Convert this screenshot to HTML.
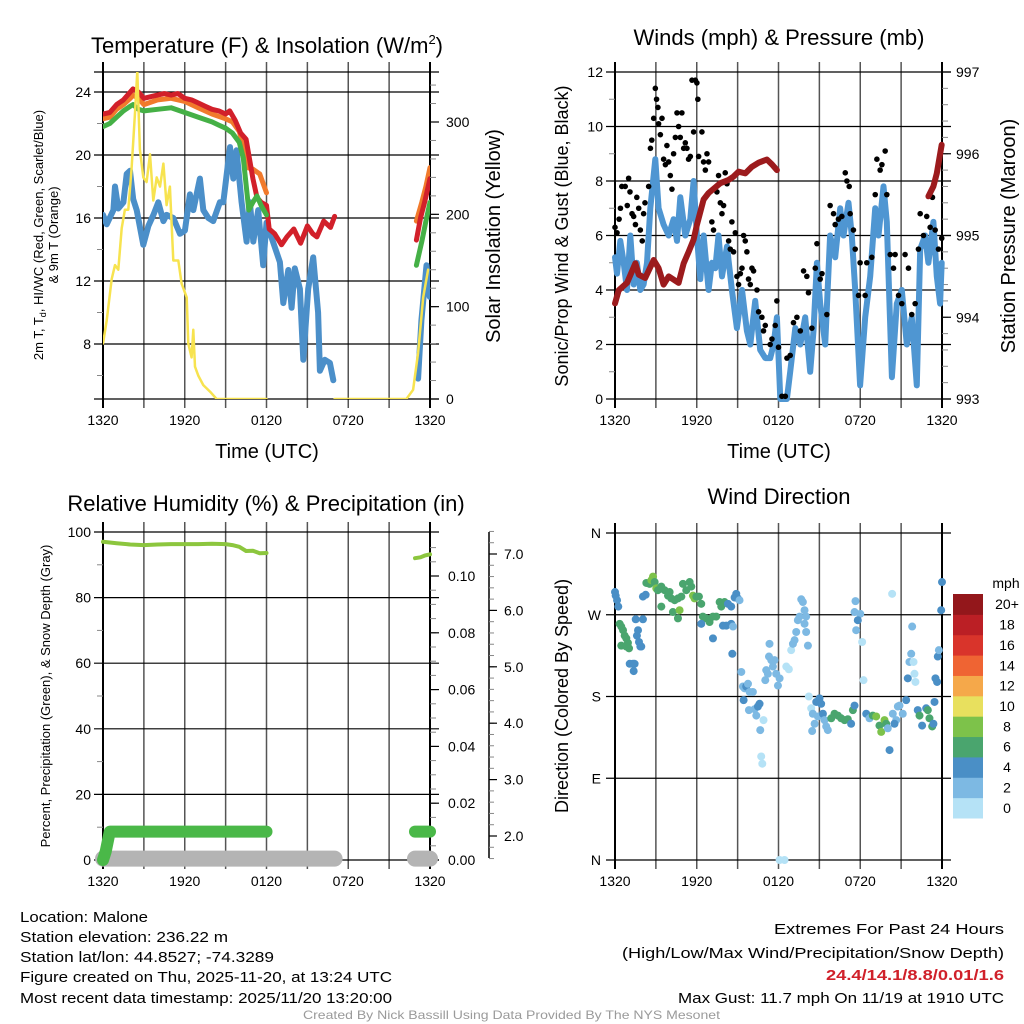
<!DOCTYPE html>
<html><head><meta charset="utf-8"><style>
html,body{margin:0;padding:0;background:#fff}
svg{display:block;font-family:"Liberation Sans",Arial,sans-serif}
</style></head><body>
<svg id="fig" width="1024" height="1024" viewBox="0 0 1024 1024" xmlns="http://www.w3.org/2000/svg">
<rect width="1024" height="1024" fill="#fff"/>
<g id="g-tl"></g>
<g id="g-tr"></g>
<g id="g-bl"></g>
<g id="g-br"></g>
<g fill="#000">
<text x="267" y="53" font-size="22" text-anchor="middle">Temperature (F) &amp; Insolation (W/m<tspan font-size="13" dy="-9">2</tspan><tspan dy="9">)</tspan></text>
<text x="779" y="45" font-size="22" text-anchor="middle">Winds (mph) &amp; Pressure (mb)</text>
<text x="266" y="511" font-size="22" text-anchor="middle">Relative Humidity (%) &amp; Precipitation (in)</text>
<text x="779" y="504" font-size="22" text-anchor="middle">Wind Direction</text>
<text x="267" y="458" font-size="20" text-anchor="middle">Time (UTC)</text>
<text x="779" y="458" font-size="20" text-anchor="middle">Time (UTC)</text>
<text transform="translate(43,235) rotate(-90)" font-size="13" text-anchor="middle">2m T, T<tspan font-size="9" dy="3">d</tspan><tspan dy="-3">, HI/WC (Red, Green, Scarlet/Blue)</tspan></text>
<text transform="translate(58,235) rotate(-90)" font-size="13" text-anchor="middle">&amp; 9m T (Orange)</text>
<text transform="translate(500,236) rotate(-90)" font-size="20" text-anchor="middle">Solar Insolation (Yellow)</text>
<text transform="translate(568,236) rotate(-90)" font-size="18" text-anchor="middle">Sonic/Prop Wind &amp; Gust (Blue, Black)</text>
<text transform="translate(1015,236) rotate(-90)" font-size="20" text-anchor="middle">Station Pressure (Maroon)</text>
<text transform="translate(50,696) rotate(-90)" font-size="13" text-anchor="middle">Percent, Precipitation (Green), &amp; Snow Depth (Gray)</text>
<text transform="translate(568,696) rotate(-90)" font-size="18" text-anchor="middle">Direction (Colored By Speed)</text>
</g>
<g font-size="15" fill="#000">
<text x="20" y="922" textLength="128" lengthAdjust="spacingAndGlyphs">Location: Malone</text>
<text x="20" y="942" textLength="208" lengthAdjust="spacingAndGlyphs">Station elevation: 236.22 m</text>
<text x="20" y="962" textLength="254" lengthAdjust="spacingAndGlyphs">Station lat/lon: 44.8527; -74.3289</text>
<text x="20" y="982" textLength="372" lengthAdjust="spacingAndGlyphs">Figure created on Thu, 2025-11-20, at 13:24 UTC</text>
<text x="20" y="1003" textLength="372" lengthAdjust="spacingAndGlyphs">Most recent data timestamp: 2025/11/20 13:20:00</text>
<text x="774" y="934" textLength="230" lengthAdjust="spacingAndGlyphs">Extremes For Past 24 Hours</text>
<text x="622" y="958" textLength="382" lengthAdjust="spacingAndGlyphs">(High/Low/Max Wind/Precipitation/Snow Depth)</text>
<text x="826" y="980" fill="#d0202a" font-weight="bold" textLength="178" lengthAdjust="spacingAndGlyphs">24.4/14.1/8.8/0.01/1.6</text>
<text x="678" y="1003" textLength="326" lengthAdjust="spacingAndGlyphs">Max Gust: 11.7 mph On 11/19 at 1910 UTC</text>
<text x="303" y="1019" font-size="12" fill="#9a9a9a" textLength="417" lengthAdjust="spacingAndGlyphs">Created By Nick Bassill Using Data Provided By The NYS Mesonet</text>
</g>
</svg>
<script>
// ---------- DATA (hours since 1320 UTC) ----------
const xTickLabels = ["1320","1920","0120","0720","1320"];
const tempTicks = [8,12,16,20,24];
const insolTicks = [0,100,200,300];
const windTicks = [0,2,4,6,8,10,12];
const presTicks = [993,994,995,996,997];
const rhTicks = [0,20,40,60,80,100];
const precipTicks = ["0.00","0.02","0.04","0.06","0.08","0.10"];
const snowTicks = ["2.0","3.0","4.0","5.0","6.0","7.0"];
const dirTicks = ["N","E","S","W","N"];
const speedBinLabels = ["0","2","4","6","8","10","12","14","16","18","20+"];
const speedBinColors = ["#b5e2f6","#7db9e3","#4a8fc6","#4aa56e","#7dc24a","#e8e05e","#f5a84a","#ef6433","#d9342b","#bb1f25","#93171b"];

const redT_t = [0,0.5,1,1.5,2,2.2,2.6,3,3.5,4,4.5,5,5.5,6,6.5,7,7.5,8,8.5,9,9.3,9.7,10.1,10.5,11,11.3,11.6,12,12.2,12.6,13.1,13.5,14,14.5,15,15.4,15.7,16.2,16.7,17];
const redT_v = [22.6,22.7,23.2,23.5,24.0,24.2,24.0,23.6,23.7,23.8,23.9,23.8,23.9,23.6,23.5,23.3,23.1,22.9,22.8,22.6,22.8,22.2,21.4,21.0,18.5,17.3,17.0,16.8,15.3,15.0,14.3,14.8,15.3,14.4,15.5,15.0,14.8,15.8,15.4,16.1];
const redT2_t = [23,23.3,23.6,24];
const redT2_v = [14.6,16.0,17.0,18.5];
const orgT_t = [0,0.5,1,1.5,2,2.2,2.6,3,4,5,6,7,8,9,9.5,10,10.3,10.6,11,11.5,12];
const orgT_v = [22.3,22.4,22.9,23.2,23.6,23.8,23.6,23.2,23.5,23.6,23.4,23.0,22.6,22.3,22.1,21.5,20.5,19.2,19.1,18.8,17.6];
const orgT2_t = [23,23.4,23.7,24];
const orgT2_v = [15.8,17.0,18.0,19.2];
const grnT_t = [0,0.5,1,1.5,2,2.2,2.6,3,4,5,6,7,8,8.5,9,9.5,10,10.3,10.7,11,11.3,11.6,12];
const grnT_v = [21.8,22.0,22.4,22.8,23.1,23.2,22.9,22.8,22.9,23.0,22.7,22.4,22.1,21.9,21.7,21.4,20.8,19.8,16.5,17.0,17.4,16.8,16.2];
const grnT2_t = [23,23.4,23.7,24];
const grnT2_v = [13.0,14.5,15.8,17.0];
const blueT_t = [0,0.27,0.76,0.88,1.12,1.5,1.74,1.98,2.22,2.47,2.96,3.33,3.7,4.06,4.43,4.67,5.16,5.65,6.01,6.38,6.63,7.11,7.36,7.73,8.09,8.58,8.83,9.32,9.56,9.8,10.17,10.54,10.78,11.03,11.39,11.76,12.0,12.98,13.23,13.6,13.84,14.08,14.45,14.7,15.06,15.43,15.79,15.92,16.28,16.65,16.9];
const blueT_v = [16.2,15.6,16.5,18,16.6,17,18.8,19,17.2,16.5,14.3,15.5,16.2,17,15.8,16.2,16,15,15.2,17.5,16.5,18.5,16.5,16,15.8,17,17,20.5,18.5,20.3,17,14.5,17,14.5,16.5,13,15.7,13.2,10.6,12.7,10.3,12.8,11.5,7,11.5,13.5,10,6.3,7,6.8,5.7];
const blueT2_t = [23.13,23.37,23.74,23.98];
const blueT2_v = [5.8,9.5,13,11];
const insol_t = [0,0.27,0.64,0.88,1.12,1.37,1.61,1.86,2.1,2.35,2.52,2.71,2.96,3.2,3.45,3.69,3.94,4.18,4.43,4.67,4.91,5.16,5.53,5.77,6.14,6.26,6.5,6.63,6.75,7.0,7.36,7.85,8.34,12.0];
const insol_v = [60,85,130,145,140,185,205,205,250,310,355,270,240,235,265,215,240,230,255,210,230,150,150,125,110,60,45,75,35,25,15,8,0,0];
const insol2_t = [17.0,22.27,22.76,23.13,23.5,23.86];
const insol2_v = [0,0,10,50,110,140];

const pres_t = [0,0.27,0.88,1.5,1.74,2.22,2.84,3.2,3.57,3.94,4.67,5.04,5.4,5.77,6.01,6.5,6.87,7.73,8.34,8.7,9.07,9.56,10.05,10.54,11.15,11.52,11.88];
const pres_v = [994.17,994.33,994.42,994.66,994.52,994.48,994.7,994.6,994.4,994.5,994.42,994.66,994.8,994.95,995.13,995.44,995.52,995.64,995.68,995.72,995.78,995.76,995.84,995.89,995.93,995.87,995.8];
const pres2_t = [23.0,23.37,23.62,23.98];
const pres2_v = [995.48,995.6,995.76,996.11];
const wind_t = [0,0.15,0.39,0.64,0.88,1.12,1.37,1.61,1.86,2.1,2.35,2.59,2.96,3.2,3.57,3.94,4.3,4.55,4.79,5.16,5.53,5.77,6.01,6.26,6.5,6.87,7.11,7.36,7.6,7.85,8.22,8.58,8.95,9.32,9.68,9.93,10.29,10.66,11.03,11.39,11.64,11.88,12.13,12.62,12.86,13.23,13.6,13.96,14.33,14.57,14.82,15.06,15.43,15.79,16.16,16.53,16.77,17.14,17.38,17.63,17.99,18.36,18.73,19.1,19.34,19.71,19.95,20.32,20.68,21.05,21.42,21.78,22.15,22.4,22.76,23.0,23.37,23.62,23.86,23.98];
const wind_v = [5.2,4.6,5.8,5.0,4.0,6.0,4.2,5.0,4.0,4.2,5.0,7.0,8.8,7.0,6.4,6.0,6.6,5.8,7.4,6.0,6.6,8.0,6.0,4.4,6.0,4.0,5.0,4.8,6.0,4.5,5.6,4.0,2.6,4.0,2.5,2.0,3.6,1.8,1.5,1.5,2.0,3.0,0,0,1.0,2.6,2.0,3.0,1.0,2.5,5.0,3.5,2.0,6.0,5.2,7.0,6.0,7.2,6.0,4.0,0.5,3.0,4.5,7.0,6.0,7.8,6.5,0.8,3.5,4.0,2.0,3.0,0.5,5.5,6.0,5.0,6.5,4.5,3.5,5.0];
const gust_t = [0,0.15,0.3,0.4,0.5,0.75,0.9,1.0,1.1,1.25,1.37,1.5,1.6,1.74,1.86,2.0,2.1,2.2,2.47,2.6,2.7,2.84,2.96,3.05,3.15,3.2,3.33,3.45,3.57,3.7,3.81,3.94,4.06,4.18,4.3,4.43,4.55,4.67,4.79,4.91,5.04,5.16,5.28,5.4,5.53,5.65,5.77,5.9,6.01,6.08,6.14,6.38,6.5,6.63,6.75,6.87,7.11,7.23,7.48,7.6,7.73,7.85,7.97,8.09,8.22,8.34,8.46,8.58,8.7,8.83,8.95,9.07,9.2,9.32,9.44,9.56,9.68,9.8,9.93,10.05,10.17,10.42,10.54,10.78,10.9,11.03,11.39,11.52,11.76,11.88,12.0,12.25,12.5,12.62,12.86,13.1,13.35,13.6,13.84,14.08,14.2,14.45,14.7,14.82,15.06,15.19,15.55,15.79,16.04,16.16,16.4,16.65,16.9,17.02,17.19,17.26,17.5,17.63,17.87,17.99,18.36,18.48,18.85,19.1,19.22,19.46,19.59,19.83,19.95,20.2,20.44,20.56,20.81,21.05,21.29,21.54,21.78,22.03,22.27,22.4,22.64,22.88,23.13,23.3,23.5,23.74,23.98];
const gust_v = [6.3,6.1,6.6,7.0,7.8,7.8,7.1,8.1,7.6,6.8,6.7,6.4,7.4,7.0,6.2,5.8,6.8,7.2,7.8,9.2,9.5,10.3,11.4,11.0,10.7,10.1,9.7,10.3,8.8,8.6,9.3,8.7,8.2,7.7,9.0,9.6,10.5,10.0,9.6,10.5,9.2,9.4,9.2,8.8,8.9,11.7,9.8,11.7,11.6,11.0,8.9,9.8,8.7,8.4,9.0,8.7,6.5,6.2,7.6,8.2,7.2,6.8,7.1,8.3,7.9,5.8,5.5,6.5,5.4,6.1,4.5,4.2,4.6,4.8,6.0,5.8,5.4,4.4,4.2,4.8,4.7,4.0,3.2,3.0,2.5,2.7,2.0,2.2,2.7,3.6,1.9,0.1,0.1,1.5,1.6,2.8,3.0,2.5,4.7,4.5,3.9,2.6,4.8,5.7,4.4,4.6,3.1,7.1,6.8,6.4,6.6,6.7,8.3,8.0,7.8,6.8,6.2,5.5,3.8,5.0,3.8,5.0,5.2,7.5,8.8,8.4,8.6,9.1,7.5,5.3,4.8,5.3,3.8,3.5,5.3,4.8,3.1,3.5,5.5,6.8,6.0,6.7,6.3,7.4,6.2,5.5,5.9];

const rh_t = [0,1,2,3,4,5,6,7,8,9,9.5,10,10.5,11,11.5,12];
const rh_v = [97,96.6,96.2,96,96.2,96.3,96.3,96.3,96.4,96.3,96,95.5,94.2,94.3,93.5,93.6];
const rh2_t = [22.9,23.3,23.6,24];
const rh2_v = [92,92.3,92.8,93.2];
const precip_t = [0,0.2,0.5,1,4,8,12];
const precip_v = [0,0.003,0.01,0.01,0.01,0.01,0.01];
const precip2_t = [22.9,24];
const precip2_v = [0.01,0.01];
const snow_t = [0,17];
const snow_v = [1.6,1.6];
const snow2_t = [22.9,24];
const snow2_v = [1.6,1.6];

const dir_t = [
 0,0.05,0.15,0.24, 0.34,0.46,0.59,0.71,0.83,0.95,0.46,0.83,1.03, 1.08,1.32,1.44,1.37, 1.52,1.61,1.76,1.86,1.69,2.05,1.93, 2.05,2.25, 2.3,2.54,2.67,2.79,2.91,3.03,3.15,
 3.4,3.64,3.89,4.13,4.38,4.62,4.87,4.99,5.23,5.48,5.6,5.72,5.84,5.97,6.16,6.33,3.4,4.25,4.74,4.62,4.01,
 6.45,6.7,6.94,7.19,7.43,6.33,7.19,7.68,7.8,8.04,8.29,8.53,8.78,8.9,9.02,9.14,7.92,8.17,8.53,8.66,8.61,
 9.27,9.39,9.51,9.63,9.76,9.88,10.12,9.44,9.83,10.24,10.37,10.49,10.61,10.66,10.9,10.73,10.81,11.03,11.1,11.22,11.34,11.3,11.47,11.59,11.71,11.83,11.96,12.08,
 12.08,12.44,12.57,12.76,12.93,13.06,13.18,13.3,13.42,13.55,13.67,13.79,13.91,14.03,13.91,14.03,14.16,
 14.23,14.4,14.52,14.65,14.77,15.01,15.13,14.89,15.26,15.38,15.5,15.62,14.47,
 15.87,16.11,16.36,16.6,16.85,17.09,17.33,17.46,17.58,17.65,17.58,18.0,17.82,17.7,18.14,18.24,
 18.44,18.68,18.92,19.17,19.41,19.54,19.78,19.9,20.02,20.15,20.39,20.64,20.51,20.76,20.88,21.12,20.34,
 21.37,21.49,21.61,21.74,21.81,21.91,21.98,22.05,22.22,22.35,22.54,22.84,22.96,23.08,23.28,23.37,23.45,23.52,23.64,23.69,23.77,23.94,24.0];
const dir_v = [
 295,291,286,279, 260,257,253,247,244,239,236,235,233, 216,216,216,208, 265,247,240,235,253,265,235, 290,292, 305,304,308,312,306,299,297,
 301,297,291,288,286,288,290,304,297,306,301,291,288,290,290,282,279,273,275,266,295,
 268,266,262,268,268,260,244,284,279,284,282,279,289,293,288,286,258,258,260,257,227,
 207,191,189,191,194,185,185,176,165,166,159,169,172,143,154,114,106,198,209,205,238,224,220,213,220,205,192,200,
 0,0,213,210,231,238,242,251,264,268,287,284,275,268,260,251,236,
 180,167,161,150,174,178,172,158,161,154,147,143,142,
 156,161,159,156,154,155,150,165,170,285,273,271,264,253,240,198,
 161,156,159,158,148,141,154,150,145,121,161,154,150,169,170,161,293,
 176,200,218,227,257,218,205,196,165,159,148,167,165,156,147,150,174,200,196,224,231,275,306];
const dir_s = [
 5,5,5,5, 7,7,7,7,7,7,7,7,7, 5,5,5,5, 5,5,5,5,5,5,5, 5,5, 7,7,9,9,7,9,7,
 7,7,7,7,7,7,7,7,7,7,7,9,9,7,7,7,7,7,9,7,7,
 7,7,7,7,7,5,5,7,7,7,5,5,5,5,5,3,5,5,5,3,5,
 3,3,3,5,3,3,3,5,3,3,3,5,5,3,1,1,1,3,3,3,3,3,3,3,3,3,3,3,
 1,1,1,1,1,3,3,3,3,3,3,3,3,3,3,3,3,
 1,1,3,3,5,5,5,3,5,3,3,3,3,
 7,7,7,7,7,7,5,7,5,3,3,3,5,3,1,1,
 5,3,7,9,7,9,9,7,3,5,3,3,5,3,3,3,1,
 5,5,3,3,3,1,1,1,5,7,5,5,7,7,7,5,5,5,5,5,3,5,5];

// ---------- DRAWING ----------
const NS = "http://www.w3.org/2000/svg";
function mk(parent, tag, attrs, name) {
  const el = document.createElementNS(NS, tag);
  for (const k in attrs) el.setAttribute(k, attrs[k]);
  
  
  parent.appendChild(el);
  return el;
}
function txt(parent, x, y, s, size, anchor, name) {
  const t = mk(parent, 'text', {x: x, y: y, 'font-size': size, 'text-anchor': anchor, fill: '#000'}, name);
  t.textContent = s;
  return t;
}
function lin(a0, a1, p0, p1) { return v => p0 + (v - a0) / (a1 - a0) * (p1 - p0); }
function pathOf(ts, vs, sx, sy) {
  let d = "";
  const n = Math.min(ts.length, vs.length);
  for (let i = 0; i < n; i++) d += (i ? "L" : "M") + sx(ts[i]).toFixed(1) + "," + sy(vs[i]).toFixed(1);
  return d;
}
function series(g, ts, vs, sx, sy, color, w, name) {
  return mk(g, 'path', {d: pathOf(ts, vs, sx, sy), fill: 'none', stroke: color, 'stroke-width': w, 'stroke-linejoin': 'round', 'stroke-linecap': 'round'}, name);
}
const X0 = 103, X1 = 430, X0r = 615, X1r = 942;
function frame(g, x0, x1, y0, y1, showXLabels, clipId) {
  for (let i = 0; i <= 8; i++) {
    const x = x0 + i * (x1 - x0) / 8;
    mk(g, 'line', {x1: x, y1: y0 - 10, x2: x, y2: y1 + 9, stroke: (i === 0 || i === 8) ? '#000' : '#555', 'stroke-width': (i === 0 || i === 8) ? 2 : 1.5}, 'x-grid-line');
  }
  if (showXLabels) {
    for (let i = 0; i < xTickLabels.length; i++) {
      txt(g, x0 + i * (x1 - x0) / 4, y1 + 26, xTickLabels[i], 14, 'middle', 'x-tick-label');
    }
  }
  const cp = mk(g, 'clipPath', {id: clipId}, 'plot-clip');
  mk(cp, 'rect', {x: x0, y: y0, width: x1 - x0, height: y1 - y0}, 'clip-rect');
}
function hgrid(g, x0, x1, y, name) {
  mk(g, 'line', {x1: x0 - 9, y1: y, x2: x1 + 9, y2: y, stroke: '#000', 'stroke-width': 1.2}, name);
}
function minor(g, x, y, len, name) {
  mk(g, 'line', {x1: x, y1: y, x2: x + len, y2: y, stroke: '#888', 'stroke-width': 1}, name);
}

// ---- Panel 1: temperature ----
(function () {
  const g = document.getElementById('g-tl');
  const Y0 = 72, Y1 = 399;
  const sx = lin(0, 24, X0, X1);
  const sy = lin(24, 8, 92, 344);
  const si = lin(0, 300, Y1, 122);
  frame(g, X0, X1, Y0, Y1, true, 'clipTL');
  hgrid(g, X0, X1, Y0, 'top-border');
  hgrid(g, X0, X1, Y1, 'bottom-border');
  for (const v of tempTicks) { hgrid(g, X0, X1, sy(v), 'temp-grid-line'); txt(g, X0 - 12, sy(v) + 5, String(v), 14, 'end', 'temp-tick-label'); }
  for (let v = 6; v <= 22; v += 4) minor(g, X0 - 6, sy(v), 6, 'temp-minor-tick');
  for (let v = 0; v <= 340; v += 20) minor(g, X1, si(v), 6, 'insol-minor-tick');
  for (const v of insolTicks) { mk(g, 'line', {x1: X1, y1: si(v), x2: X1 + 9, y2: si(v), stroke: '#000', 'stroke-width': 1.2}, 'insol-tick'); txt(g, X1 + 16, si(v) + 5, String(v), 14, 'start', 'insol-tick-label'); }
  const d = mk(g, 'g', {'clip-path': 'url(#clipTL)'}, 'temperature-series');
  series(d, blueT_t, blueT_v, sx, sy, '#4b8fc9', 6, 'windchill-line');
  series(d, blueT2_t, blueT2_v, sx, sy, '#4b8fc9', 6, 'windchill-line-recent');
  series(d, orgT_t, orgT_v, sx, sy, '#f17a2c', 5, 'temp-9m-line');
  series(d, orgT2_t, orgT2_v, sx, sy, '#f17a2c', 5, 'temp-9m-line-recent');
  series(d, redT_t, redT_v, sx, sy, '#d2202a', 5, 'temp-2m-line');
  series(d, redT2_t, redT2_v, sx, sy, '#d2202a', 5, 'temp-2m-line-recent');
  series(d, grnT_t, grnT_v, sx, sy, '#45b046', 5, 'dewpoint-line');
  series(d, grnT2_t, grnT2_v, sx, sy, '#45b046', 5, 'dewpoint-line-recent');
  series(d, insol_t, insol_v, sx, si, '#f7e34f', 2.5, 'insolation-line');
  series(d, insol2_t, insol2_v, sx, si, '#f7e34f', 2.5, 'insolation-line-recent');
})();

// ---- Panel 2: winds ----
(function () {
  const g = document.getElementById('g-tr');
  const Y0 = 72, Y1 = 399;
  const sx = lin(0, 24, X0r, X1r);
  const sw = lin(0, 12, Y1, Y0);
  const sp = lin(993, 997, Y1, Y0);
  frame(g, X0r, X1r, Y0, Y1, true, 'clipTR');
  for (const v of windTicks) { hgrid(g, X0r, X1r, sw(v), 'wind-grid-line'); txt(g, X0r - 12, sw(v) + 5, String(v), 14, 'end', 'wind-tick-label'); }
  for (let v = 1; v <= 11; v += 2) minor(g, X0r - 6, sw(v), 6, 'wind-minor-tick');
  for (let v = 993; v <= 997.01; v += 0.2) minor(g, X1r, sp(v), 6, 'pressure-minor-tick');
  for (const v of presTicks) { mk(g, 'line', {x1: X1r, y1: sp(v), x2: X1r + 9, y2: sp(v), stroke: '#000', 'stroke-width': 1.2}, 'pressure-tick'); txt(g, X1r + 14, sp(v) + 5, String(v), 14, 'start', 'pressure-tick-label'); }
  const d = mk(g, 'g', {}, 'wind-series');
  series(d, wind_t, wind_v, sx, sw, '#4f96d2', 6, 'wind-speed-line');
  const ng = Math.min(gust_t.length, gust_v.length);
  for (let i = 0; i < ng; i++) {
    mk(d, 'circle', {cx: sx(gust_t[i]), cy: sw(gust_v[i]), r: 2.8, fill: '#000'}, 'gust-point');
  }
  series(d, pres_t, pres_v, sx, sp, '#9c1b1d', 6, 'pressure-line');
  series(d, pres2_t, pres2_v, sx, sp, '#9c1b1d', 6, 'pressure-line-recent');
})();

// ---- Panel 3: humidity ----
(function () {
  const g = document.getElementById('g-bl');
  const Y0 = 532, Y1 = 860;
  const sx = lin(0, 24, X0, X1);
  const sr = lin(0, 100, Y1, Y0);
  const sp = lin(0, 0.10, Y1, 576);
  const ss = lin(2, 7, 836, 554);
  frame(g, X0, X1, Y0, Y1, true, 'clipBL');
  for (const v of rhTicks) { hgrid(g, X0, X1, sr(v), 'rh-grid-line'); txt(g, X0 - 12, sr(v) + 5, String(v), 14, 'end', 'rh-tick-label'); }
  for (let v = 10; v <= 90; v += 20) minor(g, X0 - 6, sr(v), 6, 'rh-minor-tick');
  for (let v = 0; v <= 0.1101; v += 0.005) minor(g, X1, sp(v), 6, 'precip-minor-tick');
  for (let i = 0; i < precipTicks.length; i++) { const v = parseFloat(precipTicks[i]); mk(g, 'line', {x1: X1, y1: sp(v), x2: X1 + 9, y2: sp(v), stroke: '#000', 'stroke-width': 1.2}, 'precip-tick'); txt(g, X1 + 18, sp(v) + 5, precipTicks[i], 14, 'start', 'precip-tick-label'); }
  mk(g, 'line', {x1: 489, y1: 532, x2: 489, y2: 858, stroke: '#000', 'stroke-width': 1.5}, 'snow-axis-line');
  for (let v = 1.6; v <= 7.41; v += 0.2) minor(g, 489, ss(v), 5, 'snow-minor-tick');
  for (let i = 0; i < snowTicks.length; i++) { const v = parseFloat(snowTicks[i]); mk(g, 'line', {x1: 489, y1: ss(v), x2: 497, y2: ss(v), stroke: '#000', 'stroke-width': 1.2}, 'snow-tick'); txt(g, 504, ss(v) + 5, snowTicks[i], 14, 'start', 'snow-tick-label'); }
  const d = mk(g, 'g', {}, 'humidity-series');
  series(d, snow_t, snow_v, sx, ss, '#b4b4b4', 16, 'snow-depth-line');
  series(d, snow2_t, snow2_v, sx, ss, '#b4b4b4', 16, 'snow-depth-line-recent');
  series(d, precip_t, precip_v, sx, sp, '#4ab848', 12, 'precip-line');
  series(d, precip2_t, precip2_v, sx, sp, '#4ab848', 12, 'precip-line-recent');
  series(d, rh_t, rh_v, sx, sr, '#8cc63e', 4, 'rh-line');
  series(d, rh2_t, rh2_v, sx, sr, '#8cc63e', 4, 'rh-line-recent');
})();

// ---- Panel 4: wind direction ----
(function () {
  const g = document.getElementById('g-br');
  const Y0 = 533, Y1 = 860;
  const sx = lin(0, 24, X0r, X1r);
  const sd = lin(0, 360, Y1, Y0);
  frame(g, X0r, X1r, Y0, Y1, true, 'clipBR');
  for (let i = 0; i < dirTicks.length; i++) { const y = sd(i * 90); hgrid(g, X0r, X1r, y, 'direction-grid-line'); txt(g, X0r - 14, y + 5, dirTicks[i], 14, 'end', 'direction-tick-label'); }
  const d = mk(g, 'g', {}, 'direction-points');
  const nd = Math.min(dir_t.length, dir_v.length, dir_s.length);
  for (let i = 0; i < nd; i++) {
    const bin = Math.max(0, Math.min(10, Math.floor(dir_s[i] / 2)));
    mk(d, 'circle', {cx: sx(dir_t[i]), cy: sd(dir_v[i]), r: 4, fill: speedBinColors[bin]}, 'direction-point');
  }
  const cb = mk(g, 'g', {}, 'speed-colorbar');
  const cbTop = 594, cbBot = 818, n = speedBinColors.length, h = (cbBot - cbTop) / n;
  for (let i = 0; i < n; i++) {
    const y = cbBot - (i + 1) * h;
    mk(cb, 'rect', {x: 953, y: y, width: 30, height: h + 0.5, fill: speedBinColors[i]}, 'colorbar-box');
    txt(cb, 1007, y + h / 2 + 5, speedBinLabels[i], 14, 'middle', 'colorbar-label');
  }
  txt(cb, 1006, 588, 'mph', 14, 'middle', 'colorbar-title');
})();
</script>
</body></html>
